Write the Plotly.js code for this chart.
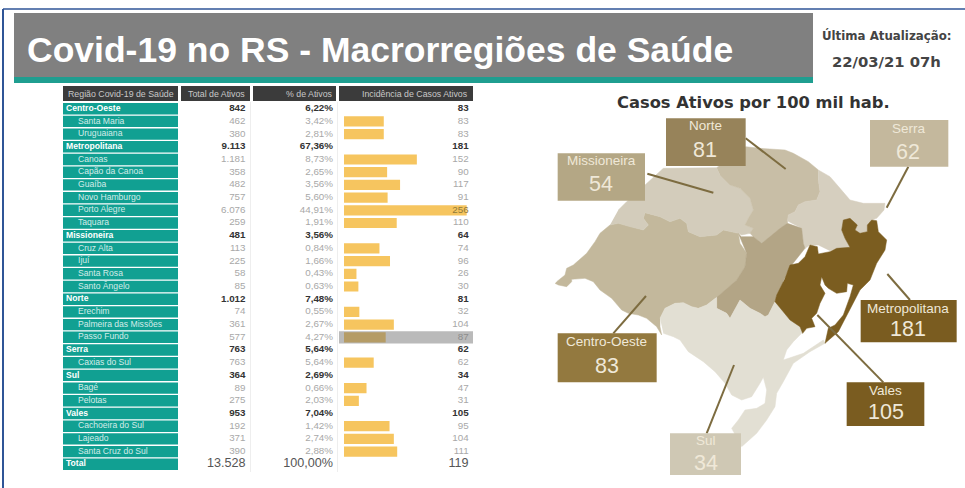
<!DOCTYPE html>
<html><head><meta charset="utf-8">
<script src="https://cdn.plot.ly/plotly-3.0.1.min.js"></script>
<style>html,body{margin:0;padding:0;background:#fff}#c{width:965px;height:488px}</style></head>
<body><div id="c"></div>
<script>
const rowNames=["Centro-Oeste","Santa Maria","Uruguaiana","Metropolitana","Canoas","Capão da Canoa","Guaíba","Novo Hamburgo","Porto Alegre","Taquara","Missioneira","Cruz Alta","Ijuí","Santa Rosa","Santo Ângelo","Norte","Erechim","Palmeira das Missões","Passo Fundo","Serra","Caxias do Sul","Sul","Bagé","Pelotas","Vales","Cachoeira do Sul","Lajeado","Santa Cruz do Sul","Total"];
const regionNames=["Centro-Oeste","Metropolitana","Missioneira","Norte","Serra","Sul","Vales"];
const totalAtivos=["842","462","380","9.113","1.181","358","482","757","6.076","259","481","113","225","58","85","1.012","74","361","577","763","763","364","89","275","953","192","371","390","13.528"];
const pctAtivos=["6,22%","3,42%","2,81%","67,36%","8,73%","2,65%","3,56%","5,60%","44,91%","1,91%","3,56%","0,84%","1,66%","0,43%","0,63%","7,48%","0,55%","2,67%","4,27%","5,64%","5,64%","2,69%","0,66%","2,03%","7,04%","1,42%","2,74%","2,88%","100,00%"];
const incidencia=[83,83,83,181,152,90,117,91,256,110,64,74,96,26,30,81,32,104,87,62,62,34,47,31,105,95,104,111,119];
const headers=["Região Covid-19 de Saúde","Total de Ativos","% de Ativos","Incidência de Casos Ativos"];
const calloutNames=["Norte","Serra","Missioneira","Metropolitana","Vales","Centro-Oeste","Sul"];
const calloutValues=[81,62,54,181,105,83,34];

// map outlines, in map units
const centroX=[45,55,80,95,95,135,160,180,215,245,265,295,320,350,365,360,360,375,405,430,455,475,500,530,590,615,620,600,595,550,530,480,445,440,420,390,360,315,310,325,310,270,235,210,180,165,140,100,80,75,50];
const centroY=[595,600,605,590,583,580,590,615,640,675,685,690,700,725,750,725,700,670,655,653,665,670,660,637,585,545,505,475,445,435,450,455,440,415,400,410,395,383,400,420,435,425,415,420,445,470,505,540,550,570,590];
const missX=[235,260,315,370,530,540,570,600,630,640,625,615,640,630,605,595,550,530,480,445,440,420,390,360,315,310,325,310,270,235,210];
const missY=[375,350,300,250,248,270,300,310,340,375,400,420,430,445,450,445,435,450,455,440,415,400,410,395,383,400,420,435,425,415,420];
const norteX=[530,617,660,735,760,805,835,835,840,830,795,775,765,745,742,720,695,665,640,630,640,615,625,640,630,600,570,540];
const norteY=[248,185,190,195,205,230,255,285,320,345,350,360,380,390,415,430,450,475,455,445,430,420,400,375,340,310,300,270];
const serraX=[835,870,900,930,970,1035,1032,1010,995,982,982,960,945,952,930,910,905,915,930,890,870,835,810,795,790,785,760,742,745,765,775,795,830,840,835];
const serraY=[255,275,310,345,355,355,375,400,405,420,440,445,435,420,400,405,435,460,487,490,497,480,480,490,475,430,417,407,390,380,360,350,345,320,285];
const valesX=[605,640,665,695,720,742,785,790,795,775,755,740,730,710,705,685,675,660,630,600,570,560,530,530,590,615,620,595];
const valesY=[455,455,475,450,430,415,430,475,490,515,540,565,590,630,650,690,695,685,670,645,700,685,670,637,585,545,505,445];
const metroX=[735,750,775,795,810,832,835,870,890,930,915,905,910,930,952,945,960,982,982,995,1010,1015,1040,1035,1010,990,960,930,895,855,865,885,910,930,940,922,920,890,865,855,845,840,850,855,840,830,815,825,800,788,780,750,705,710,730];
const metroY=[580,540,535,515,480,485,507,500,490,487,460,435,405,400,420,435,445,440,420,405,407,440,465,495,535,585,615,675,740,775,730,720,690,635,600,595,620,625,610,600,575,600,615,625,655,685,700,725,730,745,725,705,650,630,590];
const sulX=[360,375,405,430,455,475,500,530,530,560,570,600,630,660,675,685,705,750,780,788,785,760,740,730,790,850,855,810,760,745,730,710,705,680,650,605,575,595,615,650,675,680,670,660,635,605,575,555,525,490,445,420,400,370];
const sulY=[700,670,655,653,665,670,660,637,670,685,700,645,670,685,695,690,650,705,725,745,745,770,795,825,805,765,775,800,835,865,890,925,965,1005,1045,1085,1030,1005,975,970,955,915,877,895,935,945,930,895,860,830,800,765,755,745];
const leadX=[[617,737],[1105,1040],[322,520],[1042,1110],[832,1030],[318,220],[582,500]];
const leadY=[[160,252],[245,368],[266,323],[567,645],[690,892],[633,745],[840,1045]];

const W=965,H=488;
const isRegion=n=>regionNames.includes(n);
const pick=(arr,test)=>arr.filter((_,i)=>test(rowNames[i]));
const sub=n=>!isRegion(n)&&n!=="Total", reg=n=>isRegion(n), tot=n=>n==="Total";
const txt=(xs,idx,test,pos,size,color,weight,xa)=>({type:'scatter',mode:'text',xaxis:xa||'x',yaxis:'y',
  x:pick(rowNames,test).map(()=>xs),y:pick(rowNames,test),text:pick(idx,test).map(String),textposition:pos,cliponaxis:false,
  textfont:{family:'Liberation Sans',size:size,color:color,weight:weight||400},hoverinfo:'skip',showlegend:false});
const FS=8.6,NS=9.8,TS=12.6;
const traces=[
 {type:'bar',orientation:'h',xaxis:'x',yaxis:'y',y:rowNames,x:rowNames.map(()=>115),base:rowNames.map(()=>63),width:0.9,marker:{color:'#11a092'},hoverinfo:'skip'},
 txt(78,rowNames,sub,'middle right',FS,'#d4ece9'),
 txt(66,rowNames,reg,'middle right',FS,'#ffffff',700),
 txt(66,rowNames,tot,'middle right',FS,'#ffffff',700),
 txt(245.5,totalAtivos,sub,'middle left',NS,'#a8a8a8'),
 txt(245.5,totalAtivos,reg,'middle left',NS,'#333333',700),
 txt(245.5,totalAtivos,tot,'middle left',TS,'#555555'),
 txt(333,pctAtivos,sub,'middle left',NS,'#a8a8a8'),
 txt(333,pctAtivos,reg,'middle left',NS,'#333333',700),
 txt(333,pctAtivos,tot,'middle left',TS,'#555555'),
 {type:'bar',orientation:'h',xaxis:'x2',yaxis:'y',y:pick(rowNames,sub),x:pick(incidencia,sub),width:0.8,marker:{color:'#f6c55f'},hoverinfo:'skip'},
 txt(260,incidencia,sub,'middle left',NS,pick(rowNames,sub).map(n=>n==="Porto Alegre"?'#8f7a3a':'#a8a8a8'),400,'x2'),
 txt(260,incidencia,reg,'middle left',NS,'#333333',700,'x2'),
 txt(260,incidencia,tot,'middle left',TS,'#555555',400,'x2')
];
const poly=(x,y,c)=>({type:'scatter',mode:'lines',xaxis:'x3',yaxis:'y2',x:x,y:y,fill:'toself',fillcolor:c,line:{color:c,width:0.5},hoverinfo:'skip'});
traces.push(poly(centroX,centroY,'#c3b89c'),poly(missX,missY,'#d3ccbb'),poly(norteX,norteY,'#c8bea6'),poly(serraX,serraY,'#d6cfbf'),poly(valesX,valesY,'#b3a586'),poly(sulX,sulY,'#e2dfd3'),poly(metroX,metroY,'#7b5d20'));
leadX.forEach((x,i)=>traces.push({type:'scatter',mode:'lines',xaxis:'x3',yaxis:'y2',x:x,y:leadY[i],line:{color:'#7d6c40',width:2},hoverinfo:'skip'}));

const rect=(x0,y0,x1,y1,c,extra)=>Object.assign({type:'rect',xref:'x',yref:'paper',x0,x1,y0:1-y0/H,y1:1-y1/H,fillcolor:c,line:{width:0},layer:'below'},extra||{});
const box=(x0,y0,x1,y1,c)=>({type:'rect',xref:'x3',yref:'y2',x0,x1,y0,y1,fillcolor:c,line:{width:0},layer:'above'});
const vline=(x,y0,y1,c,w)=>({type:'line',xref:'x',yref:'paper',x0:x,x1:x,y0:1-y0/H,y1:1-y1/H,line:{color:c,width:w},layer:'below'});
const shapes=[
 rect(14,13,813,78,'#808080'),rect(14,77,813,83,'#1f9e90'),
 rect(63,86,178,101,'#3b3b3b'),rect(181,86,250,101,'#3b3b3b'),rect(253,86,336,101,'#3b3b3b'),rect(339,86,473,101,'#3b3b3b'),
 vline(250.5,102,472,'#eeeeee',1),vline(337.5,102,472,'#eeeeee',1),
 vline(3,9,488,'#2f5597',2),
 {type:'line',xref:'x',yref:'paper',x0:3,x1:965,y0:1-9/H,y1:1-9/H,line:{color:'#2f5597',width:1.5},layer:'below'},
 rect(339,331.2,473,343.4,'rgba(110,110,110,0.48)',{layer:'above'}),
 box(378,100,617,243,'#97835a'),box(990,105,1225,245,'#c4b89d'),box(53,205,315,347,'#b4a785'),
 box(962,645,1250,772,'#7a5c20'),box(920,892,1153,1023,'#7a5c20'),box(53,745,350,892,'#93793f'),box(390,1045,603,1170,'#cfc8b4')
];
const calloutNameX=[497,1107,185,1104,1037,200,497],calloutNameY=[122,130,227,670,915,768,1065],calloutValX=[495,1105,183,1104,1037,200,497],calloutValY=[195,200,297,733,982,843,1133];
const annotations=[];
const ann=(text,x,y,size,color,weight,family)=>annotations.push({xref:'x',yref:'paper',x,y:1-y/H,text,showarrow:false,xanchor:'center',yanchor:'middle',font:{size,color,family:family||'Liberation Sans',weight:weight||400}});
ann('Covid-19 no RS - Macrorregiões de Saúde',380,50,35.5,'#ffffff',700);
ann('Última Atualização:',886,36,11.8,'#444444',700,'DejaVu Sans');
ann('22/03/21 07h',886,61,14.8,'#444444',700,'DejaVu Sans');
ann('Casos Ativos por 100 mil hab.',753,102,16.3,'#333333',700,'DejaVu Sans');
headers.forEach((h,i)=>{annotations.push({xref:'x',yref:'paper',x:[66,247,334.5,470][i],y:1-94/H,text:h,showarrow:false,xanchor:i?'right':'left',yanchor:'middle',font:{size:8.8,color:'#c8c8c8',family:'Liberation Sans'}});});
calloutNames.forEach((n,i)=>{
 const c='#efe8d8';
 annotations.push({xref:'x3',yref:'y2',x:calloutNameX[i],y:calloutNameY[i],text:n,showarrow:false,yanchor:'middle',font:{size:13.5,color:c,family:'Liberation Sans'}});
 annotations.push({xref:'x3',yref:'y2',x:calloutValX[i],y:calloutValY[i],text:String(calloutValues[i]),showarrow:false,yanchor:'middle',font:{size:21.5,color:c,family:'Liberation Sans'}});
});
const hid={visible:false,fixedrange:true};
const layout={width:W,height:H,margin:{l:0,r:0,t:0,b:0},paper_bgcolor:'#fff',plot_bgcolor:'rgba(0,0,0,0)',showlegend:false,hovermode:false,barmode:'overlay',
 xaxis:Object.assign({},hid,{domain:[0,1],range:[0,W],anchor:'y'}),
 xaxis2:Object.assign({},hid,{domain:[344/W,471/W],range:[0,265],anchor:'y'}),
 xaxis3:Object.assign({},hid,{domain:[0,1],range:[-1620,1275],anchor:'y2'}),
 yaxis:Object.assign({},hid,{domain:[1-470.65/H,1-102.35/H],type:'category',categoryorder:'array',categoryarray:rowNames,range:[28.5,-0.5],anchor:'x'}),
 yaxis2:Object.assign({},hid,{domain:[0,1],range:[1209,-255],anchor:'x3'}),
 shapes,annotations};
Plotly.newPlot('c',traces,layout,{staticPlot:true,displayModeBar:false});
</script></body></html>
